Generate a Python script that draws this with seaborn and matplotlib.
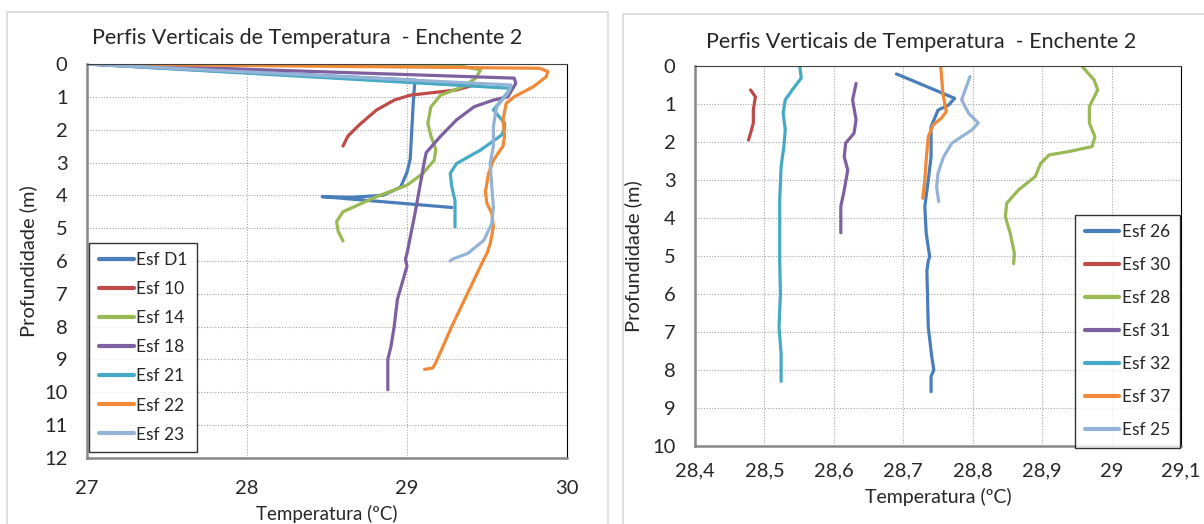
import seaborn as sns
import matplotlib.pyplot as plt
import matplotlib.patches as mpatches
import pandas as pd

# ---- dados: painel esquerdo (temperatura, profundidade) ----
d1_t = [27.0, 29.05, 29.04, 29.02, 29.0, 28.96, 28.85, 28.65, 28.47, 29.28]
d1_z = [0.0, 0.49, 1.1, 2.9, 3.3, 3.75, 4.0, 4.06, 4.04, 4.37]

e10_t = [27.0, 29.42, 29.31, 29.02, 28.92, 28.81, 28.7, 28.63, 28.6]
e10_z = [0.0, 0.64, 0.79, 0.95, 1.1, 1.4, 1.86, 2.2, 2.5]

e14_t = [27.0, 29.28, 29.46, 29.43, 29.35, 29.21, 29.15, 29.13, 29.15, 29.18, 29.17,
         29.1, 29.0, 28.81, 28.6, 28.56, 28.57, 28.6]
e14_z = [0.0, 0.01, 0.18, 0.43, 0.69, 0.95, 1.3, 1.8, 2.2, 2.6, 2.93,
         3.33, 3.69, 4.04, 4.5, 4.8, 5.1, 5.39]

e18_t = [27.0, 29.67, 29.68, 29.63, 29.54, 29.42, 29.31, 29.21, 29.12, 29.11, 29.08,
         29.05, 29.0, 28.99, 29.0, 28.94, 28.92, 28.9, 28.88, 28.88, 28.88]
e18_z = [0.0, 0.43, 0.59, 1.0, 1.1, 1.3, 1.7, 2.2, 2.7, 2.93, 3.74,
         4.55, 5.77, 5.95, 6.16, 7.17, 7.99, 8.6, 9.0, 9.3, 9.92]

e21_t = [27.0, 29.65, 29.54, 29.61, 29.61, 29.59, 29.46, 29.31, 29.27, 29.28, 29.3, 29.3]
e21_z = [0.0, 0.74, 1.4, 1.8, 1.96, 2.17, 2.62, 3.03, 3.33, 3.74, 4.15, 4.96]

e22_t = [27.0, 29.83, 29.88, 29.87, 29.79, 29.67, 29.62, 29.6, 29.61, 29.6, 29.54,
         29.51, 29.49, 29.5, 29.53, 29.54, 29.52, 29.5, 29.48, 29.38, 29.28, 29.18,
         29.16, 29.11]
e22_z = [0.0, 0.13, 0.23, 0.39, 0.69, 1.0, 1.2, 1.7, 2.2, 2.5, 2.93,
         3.33, 3.9, 4.25, 4.55, 4.96, 5.47, 5.77, 5.95, 6.97, 7.99, 9.1,
         9.26, 9.3]

e23_t = [27.0, 29.65, 29.63, 29.56, 29.54, 29.54, 29.52, 29.53, 29.54, 29.53, 29.48,
         29.38, 29.29, 29.27]
e23_z = [0.0, 0.64, 0.89, 1.3, 1.9, 2.5, 3.03, 3.74, 4.35, 4.86, 5.37,
         5.77, 5.93, 6.0]

# ---- dados: painel direito ----
e26_t = [28.69, 28.697, 28.774, 28.765, 28.75, 28.74, 28.74, 28.736, 28.731, 28.733,
         28.738, 28.736, 28.734, 28.736, 28.741, 28.744, 28.74, 28.74]
e26_z = [0.21, 0.26, 0.85, 1.03, 1.16, 1.6, 2.39, 3.0, 3.7, 4.4,
         5.02, 5.13, 5.4, 6.87, 7.65, 8.0, 8.17, 8.57]

e30_t = [28.48, 28.487, 28.484, 28.484, 28.48, 28.477]
e30_z = [0.63, 0.81, 1.16, 1.5, 1.77, 1.95]

e28_t = [28.958, 28.975, 28.98, 28.968, 28.968, 28.976, 28.972, 28.939, 28.91, 28.898,
         28.89, 28.866, 28.849, 28.847, 28.854, 28.86, 28.859]
e28_z = [0.02, 0.37, 0.63, 1.07, 1.5, 1.86, 2.12, 2.25, 2.34, 2.56,
         2.91, 3.26, 3.61, 3.97, 4.4, 4.93, 5.2]

e31_t = [28.632, 28.627, 28.632, 28.629, 28.617, 28.615, 28.62, 28.615, 28.61, 28.61]
e31_z = [0.46, 0.89, 1.42, 1.77, 2.03, 2.39, 2.74, 3.26, 3.7, 4.39]

e32_t = [28.551, 28.553, 28.54, 28.53, 28.527, 28.53, 28.528, 28.524, 28.522, 28.522,
         28.523, 28.521, 28.524, 28.524]
e32_z = [0.02, 0.32, 0.63, 0.89, 1.24, 1.68, 2.12, 2.65, 3.53, 5.1,
         6.0, 6.87, 7.57, 8.3]

e37_t = [28.754, 28.757, 28.762, 28.755, 28.743, 28.736, 28.733, 28.731, 28.728]
e37_z = [0.02, 0.72, 1.2, 1.37, 1.55, 1.86, 2.47, 3.0, 3.48]

e25_t = [28.796, 28.784, 28.794, 28.808, 28.799, 28.77, 28.758, 28.75, 28.748, 28.751]
e25_z = [0.28, 0.89, 1.24, 1.5, 1.68, 2.03, 2.39, 2.82, 3.18, 3.57]

left_names = ["Esf D1", "Esf 10", "Esf 14", "Esf 18", "Esf 21", "Esf 22", "Esf 23"]
left_series = [(d1_t, d1_z), (e10_t, e10_z), (e14_t, e14_z), (e18_t, e18_z),
               (e21_t, e21_z), (e22_t, e22_z), (e23_t, e23_z)]
right_names = ["Esf 26", "Esf 30", "Esf 28", "Esf 31", "Esf 32", "Esf 37", "Esf 25"]
right_series = [(e26_t, e26_z), (e30_t, e30_z), (e28_t, e28_z), (e31_t, e31_z),
                (e32_t, e32_z), (e37_t, e37_z), (e25_t, e25_z)]

left_xticks = [27, 28, 29, 30]
left_yticks = list(range(0, 13))
right_xticks = [28.4, 28.5, 28.6, 28.7, 28.8, 28.9, 29.0, 29.1]
right_xticklabels = ["28,4", "28,5", "28,6", "28,7", "28,8", "28,9", "29", "29,1"]
right_yticks = list(range(0, 11))

titulo = "Perfis Verticais de Temperatura  - Enchente 2"
cores = ["#4A7EBB", "#BE4B48", "#98B954", "#7D60A0", "#46AAC5", "#F08A36", "#95B3D7"]

sns.set_style("white")
plt.rcParams['font.family'] = ['Lato', 'DejaVu Sans']


def tabela(nomes, series):
    linhas = []
    for nome, (t, z) in zip(nomes, series):
        for i, (ti, zi) in enumerate(zip(t, z)):
            linhas.append({"esf": nome, "ordem": i, "temp": ti, "prof": zi})
    return pd.DataFrame(linhas)


fig = plt.figure(figsize=(12.04, 5.24), dpi=100)

# molduras dos graficos (estilo Excel)
fig.patches.append(mpatches.Rectangle((7 / 1204, -0.05), 601 / 1204, 1 - 12 / 524 + 0.05,
                                      transform=fig.transFigure, fill=False,
                                      edgecolor="#D9D9D9", lw=1.2))
fig.patches.append(mpatches.Rectangle((623 / 1204, -0.05), 0.5, 1 - 14 / 524 + 0.05,
                                      transform=fig.transFigure, fill=False,
                                      edgecolor="#D9D9D9", lw=1.2))

ax1 = fig.add_axes([87 / 1204, 1 - 458 / 524, 480 / 1204, 394 / 524])
ax2 = fig.add_axes([695 / 1204, 1 - 446 / 524, 486 / 1204, 380 / 524])

df1 = tabela(left_names, left_series)
df2 = tabela(right_names, right_series)

sns.lineplot(data=df1, x="temp", y="prof", hue="esf", units="esf", estimator=None,
             sort=False, palette=dict(zip(left_names, cores)), hue_order=left_names,
             lw=2.3, ax=ax1, legend=False)
sns.lineplot(data=df2, x="temp", y="prof", hue="esf", units="esf", estimator=None,
             sort=False, palette=dict(zip(right_names, cores)), hue_order=right_names,
             lw=2.3, ax=ax2, legend=False)

for ax, nomes, esp in [(ax1, left_names, 0.75), (ax2, right_names, 0.98)]:
    ax.grid(True, color="#A6A6A6", ls=(0, (1, 1.5)), lw=0.8)
    ax.spines["left"].set_color("#868686")
    ax.spines["bottom"].set_color("#868686")
    ax.spines["left"].set_linewidth(1.8)
    ax.spines["bottom"].set_linewidth(1.8)
    ax.spines["top"].set_color("#404040")
    ax.spines["right"].set_color("#000000")
    ax.tick_params(length=0, labelsize=14.5)
    handles = [plt.Line2D([], [], color=c, lw=3) for c in cores]
    leg = ax.legend(handles, nomes, loc="lower left", fontsize=12.5, frameon=True,
                    fancybox=False, edgecolor="black", handlelength=2.0,
                    handletextpad=0.15, labelspacing=esp, borderpad=0.55,
                    borderaxespad=0)
    leg.get_frame().set_linewidth(1.0)

fig.text(307 / 1204, 1 - 38 / 524, titulo, fontsize=15.5, ha="center", va="center")
fig.text(921 / 1204, 1 - 42 / 524, titulo, fontsize=15.5, ha="center", va="center")

ax1.set_xlim(27, 30)
ax1.set_ylim(12, 0)
ax1.set_xticks(left_xticks)
ax1.set_yticks(left_yticks)
ax1.tick_params(axis="x", pad=16)
ax1.tick_params(axis="y", pad=14)
ax1.set_xlabel("Temperatura (ºC)", fontsize=13.5)
ax1.xaxis.set_label_coords(0.5, -0.12)
ax1.set_ylabel("Profundidade (m)", fontsize=14.5, labelpad=5)
ax1.get_legend().set_bbox_to_anchor((0.005, 0.015))

ax2.set_xlim(28.4, 29.1)
ax2.set_ylim(10, 0)
ax2.set_xticks(right_xticks)
ax2.set_xticklabels(right_xticklabels)
ax2.set_yticks(right_yticks)
ax2.tick_params(axis="x", pad=12)
ax2.tick_params(axis="y", pad=14)
ax2.set_xlabel("Temperatura (ºC)", fontsize=14, labelpad=6)
ax2.set_ylabel("Profundidade (m)", fontsize=14.5, labelpad=7)
ax2.get_legend().set_bbox_to_anchor((0.782, -0.005))

fig.savefig("out.png", dpi=100)
